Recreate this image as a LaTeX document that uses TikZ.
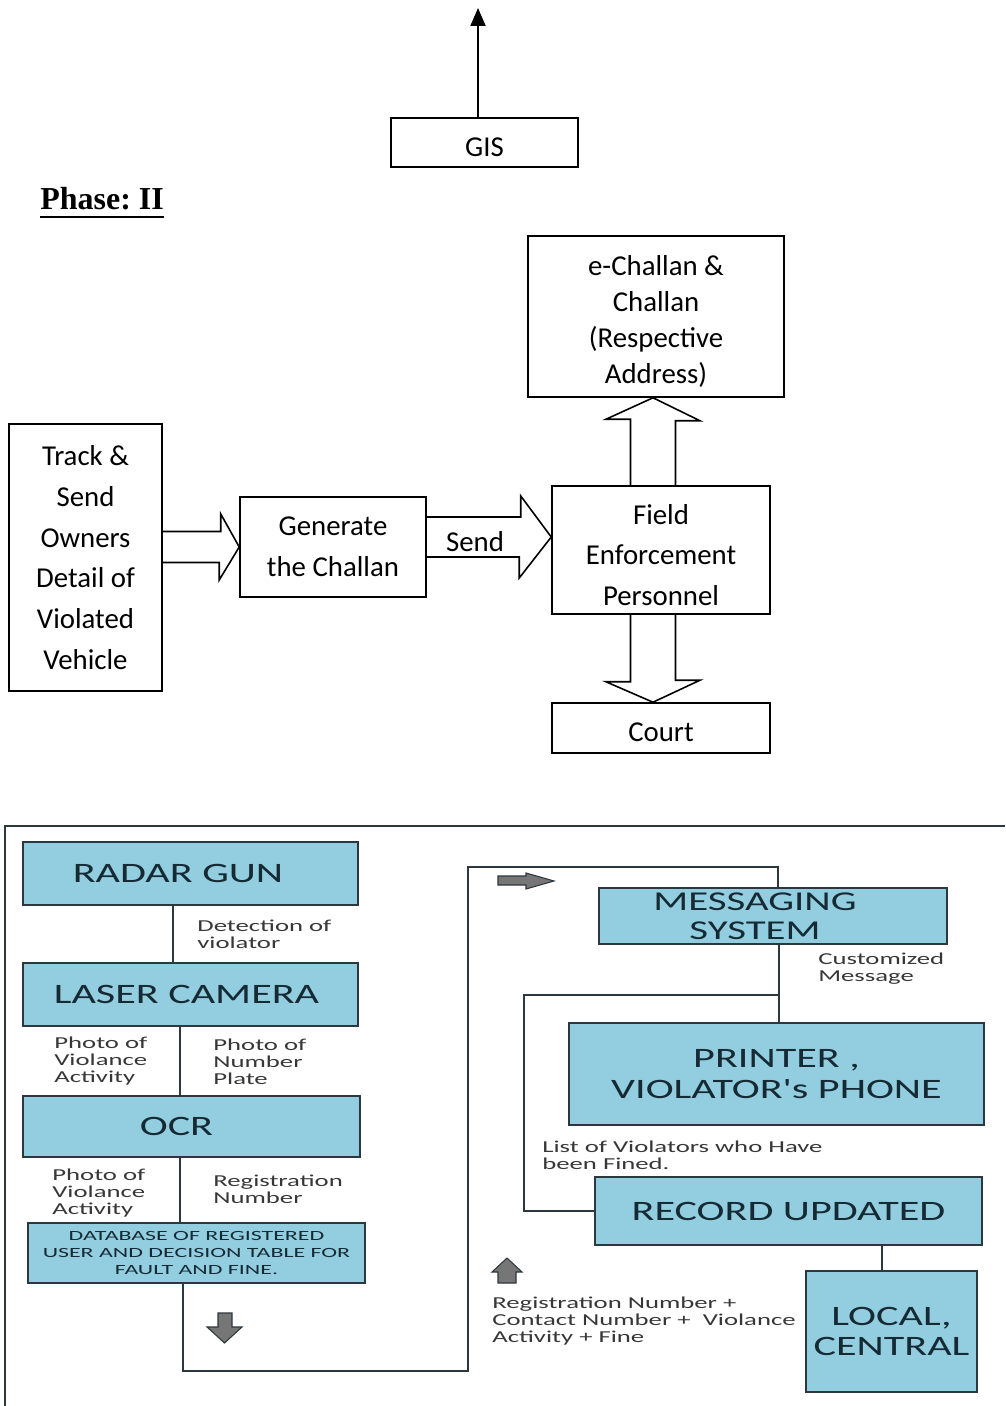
\documentclass[tikz,border=0pt]{standalone}
\usepackage{fontspec}
\setmainfont{Carlito}
\newfontfamily\titlefont[FakeStretch=1.5]{Carlito}
\newfontfamily\notefont[FakeStretch=1.6]{Carlito}
\newfontfamily\dbfont[FakeStretch=1.7]{Carlito}
\newfontfamily\phasefont{Liberation Serif}
\usetikzlibrary{arrows.meta,calc,positioning}
\definecolor{boxblue}{RGB}{146,206,224}
\definecolor{boxedge}{RGB}{45,55,62}
\definecolor{titleink}{RGB}{22,42,52}
\definecolor{noteink}{RGB}{55,55,55}
\definecolor{arrgray}{RGB}{118,118,118}
\newcommand{\pushdown}{\rule{0pt}{17pt}}
\tikzset{
  plainbox/.style={draw,line width=0.9pt,align=center,inner sep=0pt,
    font=\fontsize{16.4}{23.2}\selectfont},
  lowtext/.style={text height=15.6pt,text depth=0pt},
  bluebox/.style={draw=boxedge,fill=boxblue,line width=1.1pt,align=center,
    inner sep=0pt,text=titleink,font=\titlefont\fontsize{16}{17.5}\selectfont},
  note/.style={anchor=west,align=left,inner sep=0pt,text=noteink,
    font=\notefont\fontsize{9.5}{9.8}\selectfont},
  link/.style={draw=boxedge,line width=1.1pt},
  fatarrow/.style={draw,line width=0.9pt},
  grayarrow/.style={draw=boxedge,fill=arrgray,line width=0.6pt},
}

\begin{document}
\begin{tikzpicture}[x=0.02cm,y=-0.02cm]
  \useasboundingbox (0,0) rectangle (1005,1406);

  % phase I tail
  \node[plainbox,lowtext,minimum width=3.74cm,minimum height=0.98cm] (gis) at (484.5,142.5) {GIS};
  \coordinate (gistop) at (478,8);
  \draw[line width=1.1pt,-{Triangle[length=0.36cm,width=0.3cm]}] ([xshift=-0.13cm]gis.north) -- (gistop);

  \node[anchor=base west,inner sep=0pt,font=\phasefont\bfseries\fontsize{18.2}{20}\selectfont] (phase) at (40,209) {Phase:~II};
  \draw[line width=1.6pt] ([yshift=-0.16cm]phase.base west) -- ([yshift=-0.16cm]phase.base east);

  % phase II
  \node[plainbox,minimum width=5.12cm,minimum height=3.22cm,font=\fontsize{16.4}{20.4}\selectfont] (ech) at (656,316.5)
       {\pushdown e-Challan \&\\Challan\\(Respective\\Address)};
  \node[plainbox,minimum width=3.06cm,minimum height=5.34cm] (trk) at (85.5,557.5)
       {Track \&\\Send\\Owners\\Detail of\\Violated\\Vehicle};
  \node[plainbox,minimum width=3.72cm,minimum height=2cm] (gen) at (333,547) {Generate\\the Challan};
  \node[plainbox,minimum width=4.36cm,minimum height=2.56cm] (fld) at (661,550) {\pushdown Field\\Enforcement\\Personnel};
  \node[plainbox,lowtext,minimum width=4.36cm,minimum height=1cm] (crt) at (661,728) {Court};

  \coordinate (sendtip) at ($(fld.west)+(0,-13)$);
  \coordinate (uptip) at ($(ech.south)+(-3,0)$);
  \coordinate (dntip) at ($(crt.north)+(-8,0)$);

  \draw[fatarrow] ($(trk.east |- gen.west)+(0,-15.5)$) -- ++(58,0) -- ++(0,-17.5) -- (gen.west)
        -- ++(-20,33) -- ++(0,-17.5) -- ++(-58,0);
  \draw[fatarrow] ($(gen.east |- sendtip)+(0,-20)$) -- ++(94,0) -- ++(0,-21) -- (sendtip)
        -- ++(-32,41) -- ++(0,-21) -- ++(-94,0);
  \node[font=\fontsize{16.4}{20}\selectfont,inner sep=0pt] (sendlbl) at (475,542) {Send};
  \draw[fatarrow] ($(uptip |- fld.north)+(-22.5,0)$) -- ++(0,-66) -- ++(-24.5,0) -- (uptip)
        -- ++(47,23) -- ++(-24.5,0) -- ++(0,66);
  \draw[fatarrow] ($(dntip |- fld.south)+(-22.5,0)$) -- ++(0,67) -- ++(-24.5,0) -- (dntip)
        -- ++(47,-22) -- ++(-24.5,0) -- ++(0,-67);

  % system flow
  \draw[link] (5,1406) -- (5,826) -- (1005,826);

  \node[bluebox,minimum width=6.7cm,minimum height=1.26cm] (radar) at (190.5,873.5) {RADAR GUN\hspace*{0.5cm}};
  \node[bluebox,minimum width=6.7cm,minimum height=1.26cm] (laser) at (190.5,994.5) {LASER CAMERA\hspace*{0.16cm}};
  \node[bluebox,minimum width=6.74cm,minimum height=1.22cm] (ocr) at (191.5,1126.5) {OCR\hspace*{0.6cm}};
  \node[bluebox,minimum width=6.74cm,minimum height=1.2cm,font=\dbfont\fontsize{8}{9.6}\selectfont] (db) at (196.5,1253)
       {DATABASE OF REGISTERED\\USER AND DECISION TABLE FOR\\FAULT AND FINE.};
  \node[bluebox,minimum width=6.96cm,minimum height=1.12cm,font=\titlefont\fontsize{15.5}{16.5}\selectfont] (msg) at (773,916)
       {MESSAGING\hspace*{0.72cm}\\SYSTEM\hspace*{0.72cm}};
  \node[bluebox,minimum width=8.3cm,minimum height=2.04cm] (prn) at (776.5,1074) {PRINTER ,\\VIOLATOR's PHONE};
  \node[bluebox,minimum width=7.74cm,minimum height=1.36cm] (rec) at (788.5,1211) {RECORD UPDATED};
  \node[bluebox,minimum width=3.42cm,minimum height=2.42cm] (loc) at (891.5,1331.5) {LOCAL,\\CENTRAL};

  \node[note] (det) at (197,934.5) {Detection of\\violator};
  \node[note] (pva) at (54,1061) {Photo of\\Violance\\Activity};
  \node[note] (pnp) at (213,1062) {Photo of\\Number\\Plate};
  \node[note] (pvb) at (52,1193) {Photo of\\Violance\\Activity};
  \node[note] (regn) at (213,1189.5) {Registration\\Number};
  \node[note] (cust) at (818,968.5) {Customized\\Message};
  \node[note] (fined) at (542,1155.5) {List of Violators who Have\\been Fined.};
  \node[note] (sumr) at (492,1321) {Registration Number +\\Contact Number + \ Violance\\Activity + Fine};

  \draw[link] ([xshift=-0.35cm]radar.south) coordinate (r1) -- (r1 |- laser.north);
  \draw[link] ([xshift=-0.21cm]laser.south) coordinate (l1) -- (l1 |- ocr.north);
  \draw[link] ([xshift=-0.23cm]ocr.south) coordinate (o1) -- (o1 |- db.north);
  \coordinate (loopbot) at (468,1371);
  \coordinate (looptop) at (468,867);
  \draw[link] ([xshift=-0.27cm]db.south) |- (loopbot) -- (looptop) -| ([xshift=0.1cm]msg.north);
  \draw[link] ([xshift=0.12cm]msg.south) coordinate (m1) -- (m1 |- prn.north);
  \coordinate (jn) at (m1 |- 0,995);
  \draw[link] (jn) -| ([xshift=-1.4cm]rec.west) -- (rec.west);
  \draw[link] ([xshift=1.87cm]rec.south) coordinate (u1) -- (u1 |- loc.north);

  \draw[grayarrow] (498,876) -- (526,876) -- (526,873) -- (554,881) -- (526,889) -- (526,885) -- (498,885) -- cycle;
  \draw[grayarrow] (218,1313) -- (232,1313) -- (232,1327) -- (242,1327) -- (224.5,1343) -- (207,1327) -- (218,1327) -- cycle;
  \draw[grayarrow] (498,1283) -- (516,1283) -- (516,1272) -- (522,1272) -- (507,1258) -- (492,1272) -- (498,1272) -- cycle;
\end{tikzpicture}
\end{document}
